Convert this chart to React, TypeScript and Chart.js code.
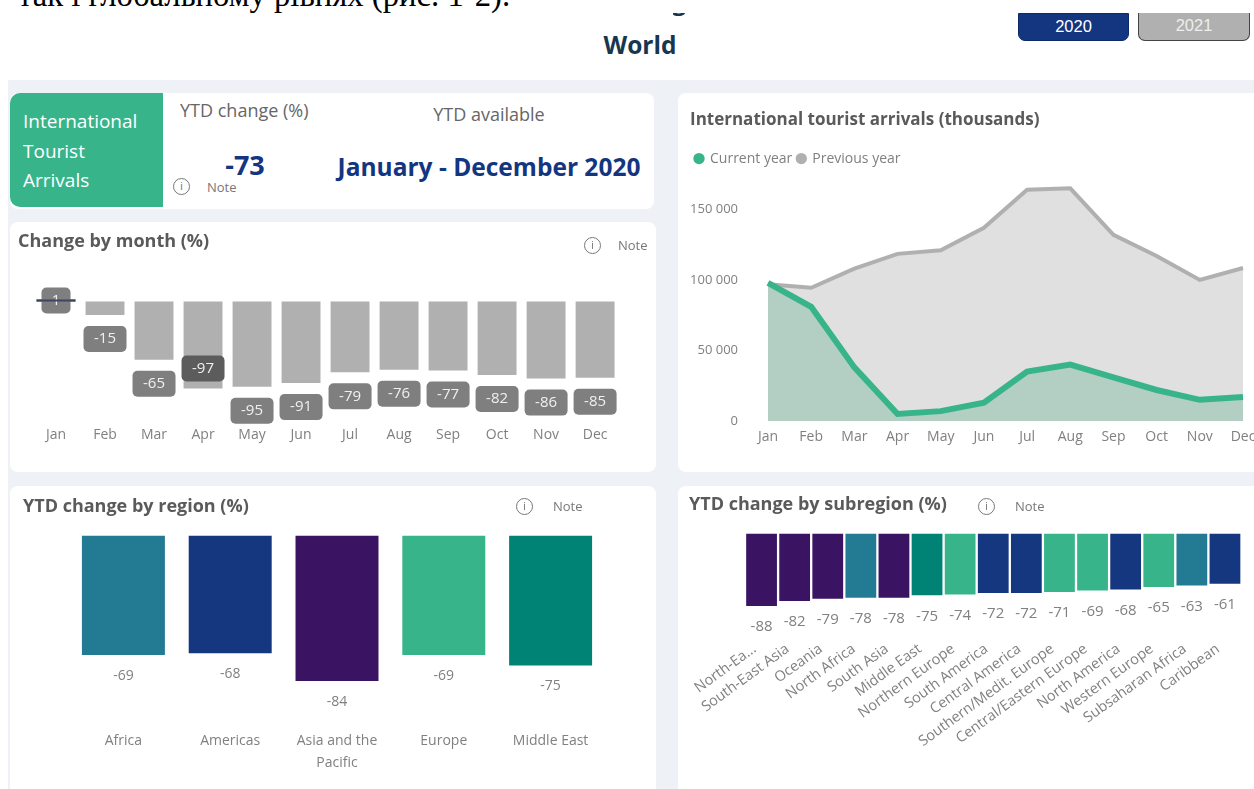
import React, { useEffect, useRef } from "react";
import { Chart, registerables } from "chart.js";

Chart.register(...registerables);

const FONT = '"Open Sans", "Noto Sans", sans-serif';
const months = ["Jan", "Feb", "Mar", "Apr", "May", "Jun", "Jul", "Aug", "Sep", "Oct", "Nov", "Dec"];
const monthChange = [1, -15, -65, -97, -95, -91, -79, -76, -77, -82, -86, -85];
const currentYear = [98000, 81000, 38000, 5000, 7000, 13000, 35000, 40000, 31000, 22000, 15000, 17000];
const previousYear = [97000, 94500, 108000, 118500, 121000, 137000, 164000, 165000, 132000, 117000, 100000, 108500];
const arrivalTicks = [0, 50000, 100000, 150000];
const regions = ["Africa", "Americas", ["Asia and the", "Pacific"], "Europe", "Middle East"];
const regionChange = [-69, -68, -84, -69, -75];
const subregions = ["North-Ea...", "South-East Asia", "Oceania", "North Africa", "South Asia", "Middle East", "Northern Europe", "South America", "Central America", "Southern/Medit. Europe", "Central/Eastern Europe", "North America", "Western Europe", "Subsaharan Africa", "Caribbean"];
const subregionChange = [-88, -82, -79, -78, -78, -75, -74, -72, -72, -71, -69, -68, -65, -63, -61];
const subregionGroup = ["asia", "asia", "asia", "africa", "asia", "mideast", "europe", "americas", "americas", "europe", "europe", "americas", "europe", "africa", "americas"];
const regionGroup = ["africa", "americas", "asia", "europe", "mideast"];

const GROUP_COLORS: Record<string, string> = {
  africa: "#237a93",
  americas: "#14377f",
  asia: "#3b1363",
  europe: "#38b48b",
  mideast: "#008275",
};
const GREEN = "#38b48b";
const NAVY = "#14357f";
const TITLE_COLOR = "#5a5a5a";
const AXIS_COLOR = "#808080";

function hiddenY(width: number, min: number, max: number) {
  return {
    min,
    max,
    afterFit(s: any) {
      s.width = width;
      s.paddingTop = 0;
      s.paddingBottom = 0;
    },
    ticks: { display: false },
    grid: { display: false },
    border: { display: false },
  };
}

function xAxis(height: number, padding: number, size: number, extraTicks: object = {}, lineHeight = 1.2) {
  return {
    afterFit(s: any) {
      s.height = height;
      s.paddingLeft = 0;
      s.paddingRight = 0;
    },
    grid: { display: false, drawTicks: false },
    border: { display: false },
    ticks: {
      autoSkip: false,
      maxRotation: 0,
      minRotation: 0,
      padding,
      color: AXIS_COLOR,
      font: { family: FONT, size, lineHeight },
      ...extraTicks,
    },
  };
}

function title(text: string, top: number, bottom: number, size = 18) {
  return {
    display: true,
    text,
    align: "start" as const,
    color: TITLE_COLOR,
    padding: { top, bottom },
    font: { family: FONT, size, weight: "bold" as const, lineHeight: 21.6 / size },
  };
}

const endLabels = (gap: number, size: number) => ({
  id: "endLabels",
  afterDatasetsDraw(chart: any) {
    const { ctx } = chart;
    const meta = chart.getDatasetMeta(0);
    ctx.save();
    ctx.fillStyle = AXIS_COLOR;
    ctx.font = `${size}px ${FONT}`;
    ctx.textAlign = "center";
    ctx.textBaseline = "middle";
    meta.data.forEach((bar: any, i: number) => {
      ctx.fillText(String(chart.data.datasets[0].data[i]), bar.x, bar.y + gap);
    });
    ctx.restore();
  },
});

const monthBoxes = {
  id: "monthBoxes",
  afterDatasetsDraw(chart: any) {
    const { ctx } = chart;
    const meta = chart.getDatasetMeta(0);
    const values = chart.data.datasets[0].data;
    ctx.save();
    ctx.textAlign = "center";
    ctx.textBaseline = "middle";
    ctx.font = `15px ${FONT}`;
    meta.data.forEach((bar: any, i: number) => {
      const v = values[i];
      const highlight = v === Math.min(...values);
      const positive = v > 0;
      const cy = positive ? bar.y + 1 : highlight ? bar.y - 20 : bar.y + 24;
      const w = positive ? 29 : 43;
      const h = 26;
      ctx.fillStyle = highlight ? "#5c5c5c" : "#7f7f7f";
      ctx.beginPath();
      ctx.roundRect(bar.x - w / 2, cy - h / 2, w, h, 5);
      ctx.fill();
      ctx.fillStyle = "#f0f0f0";
      ctx.fillText(String(v), bar.x, cy);
    });
    meta.data[0].draw(ctx);
    ctx.restore();
  },
};

function Info({ x, y }: { x: number; y: number }) {
  return (
    <div style={{ position: "absolute", left: x - 8, top: y - 8, width: 15, height: 15, border: "1px solid #777", borderRadius: "50%", textAlign: "center", color: "#666", font: `10px/15px ${FONT}` }}>i</div>
  );
}

function Txt({ x, y, size, color, bold, children, center, family }: any) {
  return (
    <div style={{ position: "absolute", left: center ? x - 300 : x, top: y - size, width: center ? 600 : undefined, height: size * 2, lineHeight: `${size * 2}px`, fontSize: size, color, fontWeight: bold ? 700 : 400, fontFamily: family || FONT, whiteSpace: "nowrap", textAlign: center ? "center" : "left" }}>{children}</div>
  );
}

const Card = ({ x, y, w, h }: any) => (
  <div style={{ position: "absolute", left: x, top: y, width: w, height: h, background: "#fff", borderRadius: 8 }} />
);

export default function App() {
  const monthRef = useRef<HTMLCanvasElement>(null);
  const lineRef = useRef<HTMLCanvasElement>(null);
  const regionRef = useRef<HTMLCanvasElement>(null);
  const subRef = useRef<HTMLCanvasElement>(null);

  useEffect(() => {
    document.body.style.margin = "0";
    const base = { responsive: false, animation: false as const };

    const month = new Chart(monthRef.current!, {
      type: "bar",
      data: {
        labels: months,
        datasets: [{
          data: monthChange,
          backgroundColor: monthChange.map((v) => (v > 0 ? "#3e4560" : "#b0b0b0")),
          minBarLength: 2,
          barPercentage: 0.794,
          categoryPercentage: 1,
        }],
      },
      options: {
        ...base,
        layout: { padding: { left: 8, right: 36.4, top: 0, bottom: 0 } },
        plugins: { legend: { display: false }, tooltip: { enabled: false }, title: title("Change by month (%)", 9, 40) },
        scales: { x: xAxis(45, 0, 14), y: hiddenY(13.5, -140, 10) },
      } as any,
      plugins: [monthBoxes],
    });

    const line = new Chart(lineRef.current!, {
      type: "line",
      data: {
        labels: months,
        datasets: [
          { label: "Current year", data: currentYear, borderColor: GREEN, backgroundColor: "#b3cec2", borderWidth: 6, fill: "origin", pointRadius: 0, tension: 0, clip: false, pointStyle: "circle" },
          { label: "Previous year", data: previousYear, borderColor: "#b0b0b0", backgroundColor: "#e0e0e0", borderWidth: 4, fill: "origin", pointRadius: 0, tension: 0, clip: false, pointStyle: "circle" },
        ],
      },
      options: {
        ...base,
        layout: { padding: { left: 12, right: 11, top: 0, bottom: 0 } },
        plugins: {
          tooltip: { enabled: false },
          title: title("International tourist arrivals (thousands)", 16, 16, 17),
          legend: {
            display: true,
            align: "start",
            labels: {
              usePointStyle: true,
              boxWidth: 8,
              boxHeight: 8,
              padding: 5,
              color: AXIS_COLOR,
              font: { family: FONT, size: 14 },
              generateLabels: (c: any) => c.data.datasets.map((d: any, i: number) => ({
                text: d.label,
                fillStyle: d.borderColor,
                strokeStyle: d.borderColor,
                lineWidth: 0,
                pointStyle: "circle",
                fontColor: AXIS_COLOR,
                datasetIndex: i,
              })),
            },
          },
        },
        scales: {
          x: xAxis(51, 8, 14),
          y: {
            min: 0,
            max: 174000,
            afterFit(s: any) { s.width = 78; s.paddingTop = 0; s.paddingBottom = 0; },
            afterBuildTicks(s: any) { s.ticks = arrivalTicks.map((value) => ({ value })); },
            grid: { display: false, drawTicks: false },
            border: { display: false },
            ticks: {
              padding: 30,
              color: AXIS_COLOR,
              font: { family: FONT, size: 13 },
              callback: (v: any) => String(v).replace(/\B(?=(\d{3})+$)/g, " "),
            },
          },
        },
      } as any,
    });

    const region = new Chart(regionRef.current!, {
      type: "bar",
      data: {
        labels: regions as any,
        datasets: [{
          data: regionChange,
          backgroundColor: regionGroup.map((g) => GROUP_COLORS[g]),
          barPercentage: 0.777,
          categoryPercentage: 1,
        }],
      },
      options: {
        ...base,
        layout: { padding: { left: 13, right: 52, top: 0, bottom: 0 } },
        plugins: { legend: { display: false }, tooltip: { enabled: false }, title: title("YTD change by region (%)", 10, 18) },
        scales: { x: xAxis(63, 4, 14, {}, 1.55), y: hiddenY(47, -110, 0) },
      } as any,
      plugins: [endLabels(21, 14)],
    });

    const sub = new Chart(subRef.current!, {
      type: "bar",
      data: {
        labels: subregions,
        datasets: [{
          data: subregionChange,
          backgroundColor: subregionGroup.map((g) => GROUP_COLORS[g]),
          barPercentage: 0.93,
          categoryPercentage: 1,
        }],
      },
      options: {
        ...base,
        layout: { padding: { left: 11, right: 12.5, top: 0, bottom: 0 } },
        plugins: { legend: { display: false }, tooltip: { enabled: false }, title: title("YTD change by subregion (%)", 8, 18) },
        scales: { x: xAxis(156.6, 8, 14.5, { minRotation: 36, maxRotation: 36, labelOffset: -7 }), y: hiddenY(56, -120, 0) },
      } as any,
      plugins: [endLabels(21, 15)],
    });

    return () => {
      month.destroy();
      line.destroy();
      region.destroy();
      sub.destroy();
    };
  }, []);

  const cv = (x: number, y: number): React.CSSProperties => ({ position: "absolute", left: x, top: y, display: "block" });

  return (
    <div style={{ position: "absolute", left: 0, top: 0, width: 1254, height: 789, overflow: "hidden", background: "#fff" }}>
      <div style={{ position: "absolute", left: 8, top: 80, width: 1246, height: 709, background: "#eef2f6" }} />
      <Card x={10} y={93} w={644} h={116} />
      <Card x={10} y={222} w={646} h={250} />
      <Card x={10} y={486} w={646} h={320} />
      <Card x={678} y={93} w={590} h={379} />
      <Card x={678} y={486} w={590} h={320} />

      <div style={{ position: "absolute", left: 18, top: -23, fontFamily: '"Liberation Serif", serif', fontSize: 32.7, lineHeight: "36px", color: "#000", whiteSpace: "nowrap" }}>так і глобальному рівнях (рис. 1-2).</div>
      <div style={{ position: "absolute", left: 673, top: 13, width: 12, height: 3, overflow: "hidden" }}>
        <div style={{ position: "absolute", left: -1, top: -28, fontFamily: FONT, fontWeight: 700, fontSize: 25, lineHeight: "30px", color: "#17364f" }}>g</div>
      </div>
      <Txt x={640} y={44} size={24.5} color="#17364f" bold center>World</Txt>

      <div style={{ position: "absolute", left: 1018, top: 13, width: 111, height: 28, background: NAVY, border: "1px solid #0d2a66", boxSizing: "border-box", borderRadius: "0 0 7px 7px", color: "#fff", textAlign: "center", font: '16.5px/24px "Liberation Sans", sans-serif' }}>2020</div>
      <div style={{ position: "absolute", left: 1138, top: 13, width: 112, height: 28, background: "#b0b0b0", border: "1px solid #444", borderTop: "none", boxSizing: "border-box", borderRadius: "0 0 7px 7px", color: "#eee", textAlign: "center", font: '16.5px/24px "Liberation Sans", sans-serif' }}>2021</div>

      <div style={{ position: "absolute", left: 10, top: 93, width: 153, height: 114, background: GREEN, borderRadius: "10px 0 0 10px" }} />
      <Txt x={23} y={121} size={19} color="#fff">International</Txt>
      <Txt x={23} y={151} size={19} color="#fff">Tourist</Txt>
      <Txt x={23} y={180} size={19} color="#fff">Arrivals</Txt>
      <Txt x={180} y={110} size={18} color="#666">YTD change (%)</Txt>
      <Txt x={489} y={114} size={18} color="#666" center>YTD available</Txt>
      <Txt x={245} y={165} size={27} color={NAVY} bold center>-73</Txt>
      <Txt x={489} y={166} size={24.5} color={NAVY} bold center>January - December 2020</Txt>
      <Info x={181} y={186} />
      <Txt x={207} y={187} size={13} color="#777">Note</Txt>

      <canvas ref={monthRef} width={646} height={250} style={cv(10, 222)} />
      <Info x={592} y={245} />
      <Txt x={618} y={245} size={13} color="#777">Note</Txt>

      <canvas ref={lineRef} width={576} height={379} style={cv(678, 93)} />

      <canvas ref={regionRef} width={646} height={303} style={cv(10, 486)} />
      <Info x={524} y={506} />
      <Txt x={553} y={506} size={13} color="#777">Note</Txt>

      <canvas ref={subRef} width={576} height={303} style={cv(678, 486)} />
      <Info x={986} y={506} />
      <Txt x={1015} y={506} size={13} color="#777">Note</Txt>
    </div>
  );
}
